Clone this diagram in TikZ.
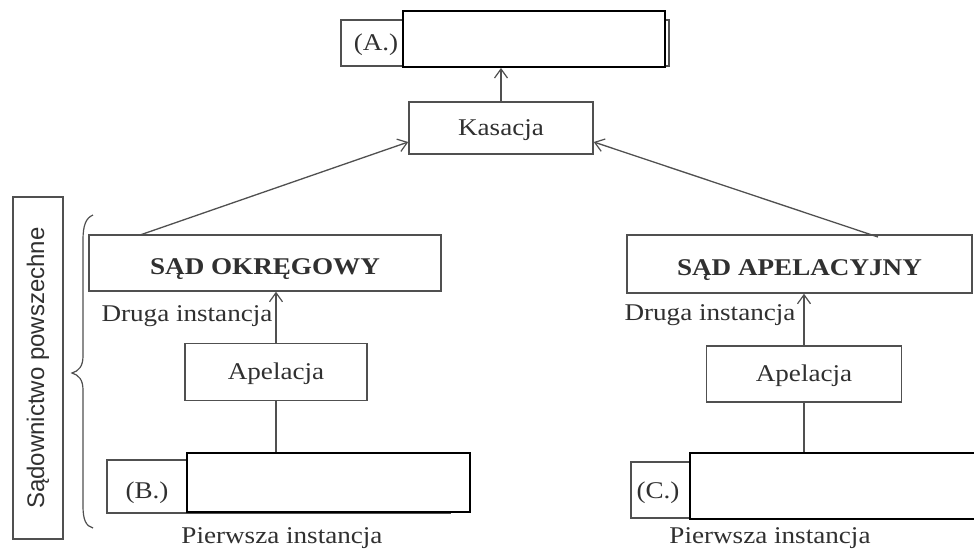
\documentclass[tikz,border=0pt]{standalone}
\usepackage{fontspec}
\setmainfont{Liberation Serif}[FakeStretch=1.13]
\newfontfamily\lsans{Liberation Sans}
\usetikzlibrary{arrows.meta,calc}
\definecolor{ln}{HTML}{505050}
\definecolor{tx}{HTML}{303030}
\newcommand{\lowr}[2]{\raisebox{-#1}[\height][\depth]{#2}}
\begin{document}
\begin{tikzpicture}[x=1pt,y=-1pt,
  every node/.style={text=tx,font=\fontsize{24}{28}\selectfont},
  graybox/.style={draw=ln,line width=1.5pt,fill=white,inner sep=0pt},
  whitebox/.style={draw=black,line width=2pt,fill=white,inner sep=0pt},
  lbl/.style={inner sep=0pt},
  conn/.style={draw=ln,line width=1.3pt},
  arr/.style={conn,-{Straight Barb[length=9pt,width=13pt,line width=1.2pt]}}
]
\useasboundingbox (0,0) rectangle (974,552);
\fill[white] (0,0) rectangle (974,552);

% top box A
\node[graybox,minimum width=328pt,minimum height=46pt] (ag) at (505,43) {};
\node[lbl] (alab) at (376,45) {(A.)};
\node[whitebox,minimum width=262pt,minimum height=56pt] (aw) at (534,39) {};

% Kasacja
\node[graybox,minimum width=184pt,minimum height=52pt] (kas) at (501,128) {\lowr{2pt}{Kasacja}};

% left column
\node[graybox,minimum width=352pt,minimum height=56pt] (okr) at (265,263) {\lowr{6pt}{\bfseries SĄD OKRĘGOWY}};
\node[lbl] (druL) at (187,316) {Druga instancja};
\node[graybox,minimum width=182pt,minimum height=57pt] (apL) at (276,372) {\lowr{2pt}{Apelacja}};
\node[graybox,minimum width=343pt,minimum height=53pt] (bg) at (278.5,486.5) {};
\node[lbl] (blab) at (147,493) {(B.)};
\node[whitebox,minimum width=283pt,minimum height=59pt] (bw) at (328.5,482.5) {};
\node[lbl] (pierL) at (282,538) {Pierwsza instancja};

% right column
\node[graybox,minimum width=345pt,minimum height=58pt] (apel) at (799.5,264) {\lowr{6pt}{\bfseries SĄD APELACYJNY}};
\node[lbl] (druR) at (710,315) {Druga instancja};
\node[graybox,minimum width=195pt,minimum height=56pt] (apR) at (804,374) {\lowr{2pt}{Apelacja}};
\node[graybox,minimum width=350pt,minimum height=56pt] (cg) at (806,490) {};
\node[lbl] (clab) at (658,493) {(C.)};
\node[whitebox,minimum width=290pt,minimum height=66pt] (cw) at (835,486) {};
\node[lbl] (pierR) at (770,538) {Pierwsza instancja};

% side label
\node[graybox,minimum width=342pt,minimum height=50pt,rotate=90] (side) at (38,368)
  {\lsans\fontsize{24}{28}\selectfont Sądownictwo powszechne};

% brace
\draw[conn,line width=1.2pt] (93,215) .. controls (86,218) and (83,225) .. (83,240)
  -- (83,356) .. controls (83,366) and (79,371) .. (72,373)
  .. controls (79,375) and (83,380) .. (83,390)
  -- (83,506) .. controls (83,520) and (86,526) .. (93,528);

% connectors
\draw[arr] (kas.north) -- (kas.north |- aw.south);
\draw[arr] (140,235) -- ([yshift=-14pt]kas.west);
\draw[arr] (878,237) -- ([yshift=-14pt]kas.east);
\draw[arr] (apL.north) -- (apL.north |- okr.south);
\draw[conn] (apL.south) -- (apL.south |- bw.north);
\draw[arr] (apR.north) -- (apR.north |- apel.south);
\draw[conn] (apR.south) -- (apR.south |- cw.north);
\end{tikzpicture}
\end{document}
